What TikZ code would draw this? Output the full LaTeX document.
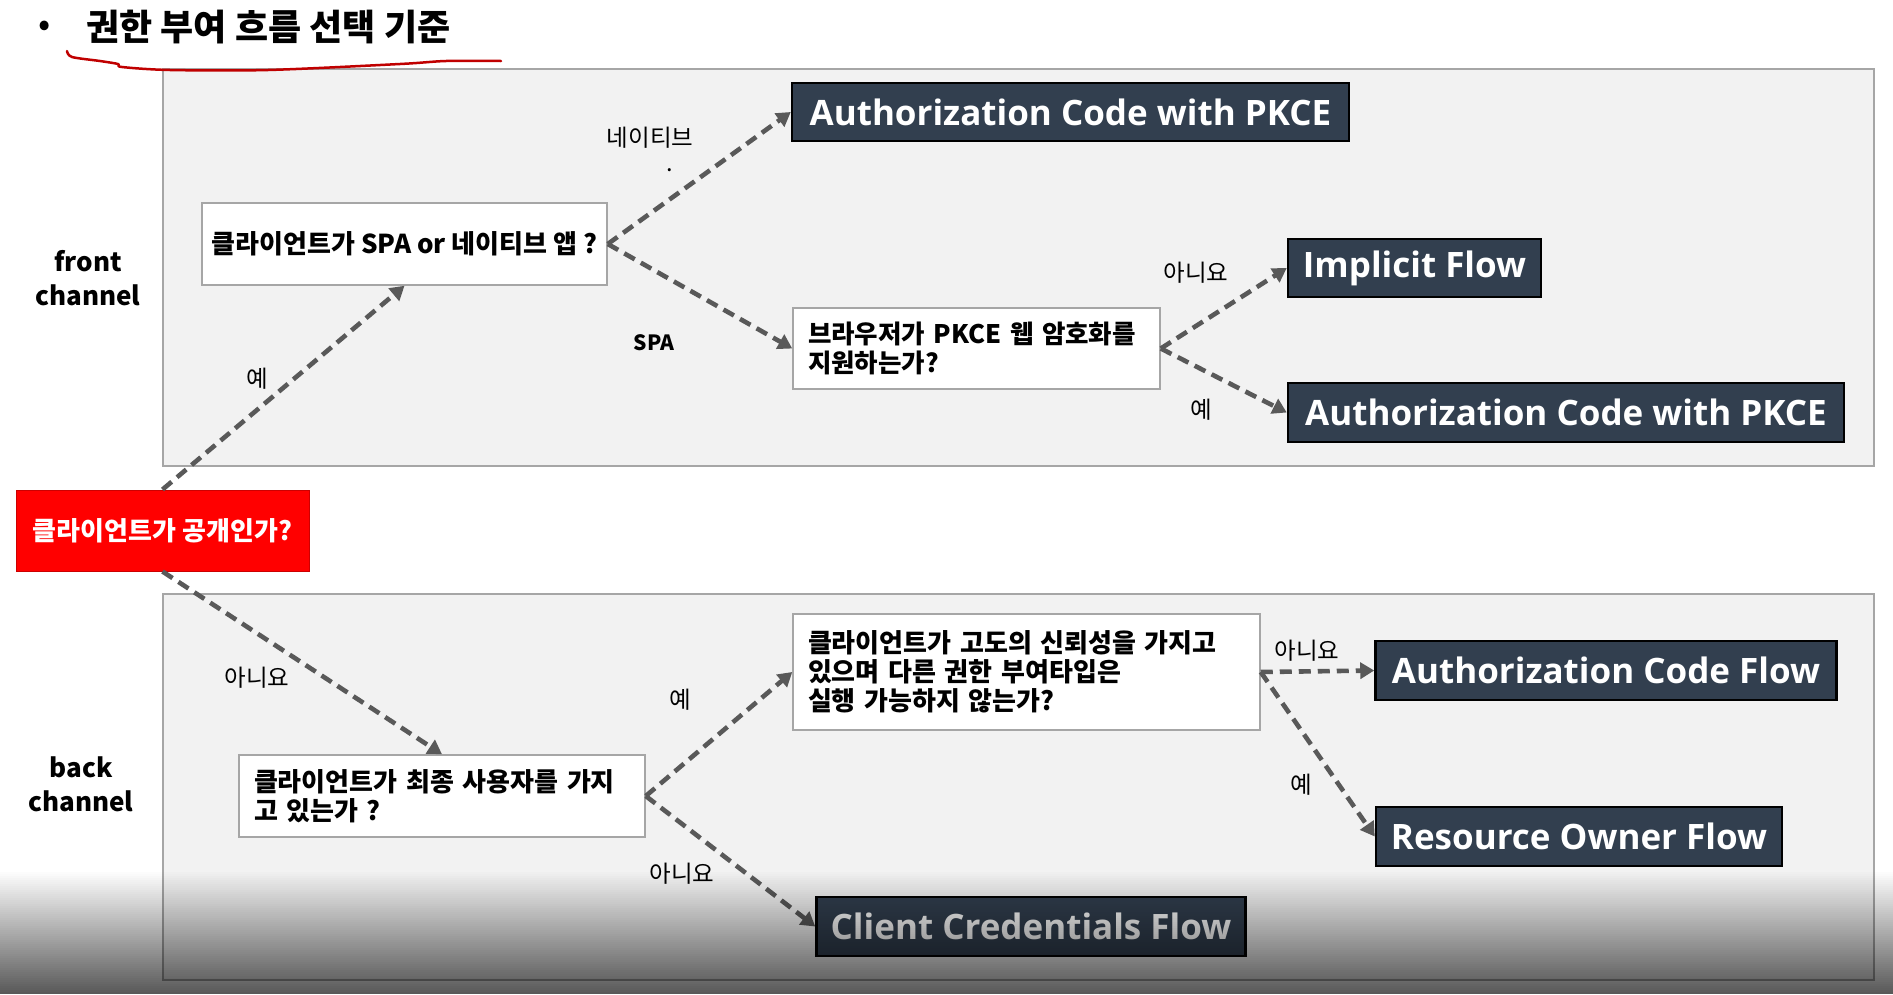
\documentclass[tikz,border=0pt]{standalone}
\usepackage{fontspec}
\setmainfont{Noto Sans CJK KR}
\newfontfamily\en{Open Sans}
\usetikzlibrary{arrows.meta}
\definecolor{panel}{HTML}{F2F2F2}
\definecolor{panelline}{HTML}{A6A6A6}
\definecolor{darkbox}{HTML}{323F4F}
\definecolor{arrowgray}{HTML}{595959}
\definecolor{redbox}{HTML}{FF0000}
\definecolor{uline}{HTML}{C00000}
\tikzset{
  panelbox/.style={draw=panelline, line width=1.5pt, fill=panel, inner sep=0pt},
  flow/.style={draw=black, line width=2.5pt, fill=darkbox, text=white, font=\en\bfseries\fontsize{35}{42}\selectfont, minimum height=58pt, inner sep=0pt},
  qbox/.style={draw=panelline, line width=1.5pt, fill=white, font=\bfseries\fontsize{26}{29}\selectfont, align=left, inner ysep=0pt, inner xsep=15pt},
  redq/.style={fill=redbox, draw=redbox!80!black, line width=1pt, text=white, font=\bfseries\fontsize{26}{30}\selectfont, inner sep=0pt},
  lbl/.style={font=\fontsize{23.5}{27}\selectfont, inner sep=0pt},
  chan/.style={font=\bfseries\fontsize{26}{34}\selectfont, align=center, inner sep=0pt},
  conn/.style={draw=arrowgray, line width=4.6pt, dash pattern=on 12pt off 7pt, -{Triangle[length=14pt,width=16pt]}}
}
\begin{document}
\begin{tikzpicture}[x=1pt,y=-1pt]
\useasboundingbox (0,0) rectangle (1893,994);
\fill[white] (0,0) rectangle (1893,994);
% panels
\node[panelbox, minimum width=1711pt, minimum height=397pt] (front) at (1018.5,267.5) {};
\node[panelbox, minimum width=1711pt, minimum height=386pt] (back) at (1018.5,787) {};
% title
\node[font=\fontsize{36}{40}\selectfont, inner sep=0pt] (bullet) at (45,29) {•};
\node[font=\bfseries\fontsize{36}{42}\selectfont, anchor=west, inner sep=0pt] (title) at (86,27) {권한 부여 흐름 선택 기준};
\draw[uline, line width=2.5pt, line cap=round, line join=round] plot[smooth, tension=0.5] coordinates {(67,51) (72,57) (100,61) (118,64) (122,67) (170,70) (268,70) (400,64) (446,61) (501,61)};
\node[chan] (frontlbl) at (88,278) {front\\channel};
\node[chan] (backlbl) at (81,784) {back\\channel};
% question nodes
\node[redq, minimum width=293pt, minimum height=81pt] (pub) at (162.5,530.5) {클라이언트가 공개인가?};
\node[qbox, inner xsep=4pt, minimum width=405pt, minimum height=82pt, align=center] (spa) at (404.5,244) {클라이언트가 SPA or 네이티브 앱 ?};
\node[qbox, text width=337pt, minimum height=81pt, font=\bfseries\fontsize{25.5}{29}\selectfont] (browser) at (976.5,348.5) {브라우저가 PKCE 웹 암호화를\\지원하는가?};
\node[qbox, text width=376pt, minimum height=82pt] (user) at (442,796) {클라이언트가 최종 사용자를 가지\\고 있는가 ?};
\node[qbox, text width=437pt, minimum height=116pt] (trust) at (1026.5,672) {클라이언트가 고도의 신뢰성을 가지고\\있으며 다른 권한 부여타입은\\실행 가능하지 않는가?};
% flow nodes
\node[flow, minimum width=557pt] (pkce1) at (1070.5,112) {Authorization Code with PKCE};
\node[flow, minimum width=253pt] (implicit) at (1414.5,268) {Implicit Flow};
\node[flow, minimum width=556pt, minimum height=59pt] (pkce2) at (1566,412.5) {Authorization Code with PKCE};
\node[flow, minimum width=461pt, minimum height=59pt] (acf) at (1606,670.5) {Authorization Code Flow};
\node[flow, minimum width=406pt, minimum height=59pt] (rof) at (1579,836.5) {Resource Owner Flow};
\node[flow, minimum width=429pt, minimum height=59pt] (ccf) at (1031,926.5) {Client Credentials Flow};
% connectors
\draw[conn] (pub.north) -- (spa.south);
\draw[conn] (spa.east) -- (pkce1.west);
\draw[conn] (spa.east) -- (browser.west);
\draw[conn] (browser.east) -- (implicit.west);
\draw[conn] (browser.east) -- (pkce2.west);
\draw[conn] (pub.south) -- (user.north);
\draw[conn] (user.east) -- (trust.west);
\draw[conn] (user.east) -- (ccf.west);
\draw[conn] (trust.east) -- (acf.west);
\draw[conn] (trust.east) -- (rof.west);
% labels
\node[lbl] (l1) at (650,138) {네이티브};
\node[lbl] (l1dot) at (670,170) {.};
\node[lbl, font=\bfseries\fontsize{21}{25}\selectfont] (l2) at (654,343) {SPA};
\node[lbl] (l3) at (257,379) {예};
\node[lbl] (l4) at (1196,273) {아니요};
\node[lbl] (l5) at (1201,410) {예};
\node[lbl] (l6) at (257,678) {아니요};
\node[lbl] (l7) at (680,700) {예};
\node[lbl] (l8) at (682,874) {아니요};
\node[lbl] (l9) at (1307,651) {아니요};
\node[lbl] (l10) at (1301,785) {예};
% bottom shade
\foreach \i in {0,...,61} {
  \pgfmathsetmacro\op{0.65*(\i/61)}
  \fill[black, fill opacity=\op] (0,870+2*\i) rectangle (1893,872+2*\i);
}
\end{tikzpicture}
\end{document}
